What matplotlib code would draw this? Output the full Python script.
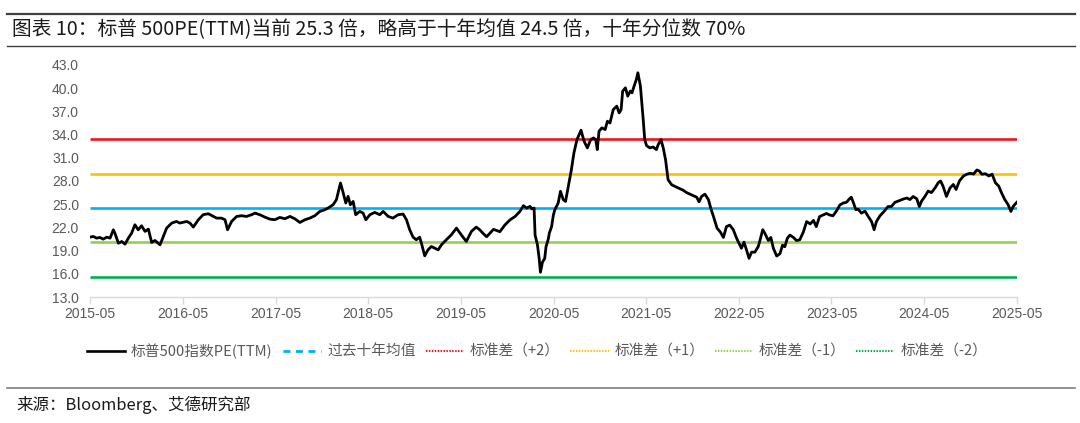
import matplotlib
matplotlib.use("Agg")
import matplotlib.pyplot as plt
from matplotlib.lines import Line2D
import pandas as pd

plt.rcParams['font.family'] = ['Noto Sans CJK SC', 'DejaVu Sans']

title = "图表 10：标普 500PE(TTM)当前 25.3 倍，略高于十年均值 24.5 倍，十年分位数 70%"
source = "来源：Bloomberg、艾德研究部"

dates = [
    "2015-05-01", "2015-05-14", "2015-05-27", "2015-06-09", "2015-06-22", "2015-07-06", "2015-07-19",
    "2015-08-01", "2015-08-07", "2015-08-21", "2015-09-03", "2015-09-16", "2015-09-29", "2015-10-12",
    "2015-10-25", "2015-11-07", "2015-11-20", "2015-12-04", "2015-12-17", "2015-12-30", "2016-01-12",
    "2016-02-01", "2016-02-14", "2016-02-27", "2016-03-18", "2016-04-06", "2016-04-19", "2016-05-16",
    "2016-05-29", "2016-06-11", "2016-07-01", "2016-07-20", "2016-08-09", "2016-08-29", "2016-09-11",
    "2016-09-30", "2016-10-14", "2016-10-24", "2016-11-09", "2016-11-29", "2016-12-18", "2017-01-07",
    "2017-01-27", "2017-02-09", "2017-02-28", "2017-03-20", "2017-04-09", "2017-04-28", "2017-05-18",
    "2017-06-07", "2017-06-27", "2017-07-16", "2017-08-05", "2017-08-25", "2017-09-13", "2017-10-03",
    "2017-10-23", "2017-11-11", "2017-11-24", "2017-12-14", "2017-12-27", "2018-01-12", "2018-01-23",
    "2018-02-02", "2018-02-11", "2018-02-20", "2018-03-03", "2018-03-13", "2018-03-29", "2018-04-11",
    "2018-04-22", "2018-05-08", "2018-05-27", "2018-06-16", "2018-06-29", "2018-07-19", "2018-08-07",
    "2018-08-27", "2018-09-16", "2018-09-29", "2018-10-12", "2018-10-25", "2018-11-07", "2018-11-20",
    "2018-11-27", "2018-12-10", "2018-12-23", "2019-01-05", "2019-01-18", "2019-02-01", "2019-02-14",
    "2019-03-05", "2019-03-25", "2019-04-14", "2019-05-03", "2019-05-23", "2019-06-12", "2019-07-01",
    "2019-07-15", "2019-07-28", "2019-08-11", "2019-09-07", "2019-10-02", "2019-10-22", "2019-11-11",
    "2019-12-01", "2019-12-20", "2020-01-03", "2020-01-16", "2020-01-29", "2020-02-05", "2020-02-14",
    "2020-02-18", "2020-02-27", "2020-03-05", "2020-03-10", "2020-03-18", "2020-03-27", "2020-04-01",
    "2020-04-10", "2020-04-14", "2020-04-23", "2020-04-30", "2020-05-06", "2020-05-19", "2020-05-28",
    "2020-06-08", "2020-06-17", "2020-06-28", "2020-07-10", "2020-07-20", "2020-08-01", "2020-08-17",
    "2020-08-29", "2020-09-11", "2020-09-24", "2020-10-05", "2020-10-14", "2020-10-20", "2020-10-27",
    "2020-11-07", "2020-11-20", "2020-11-29", "2020-12-09", "2020-12-22", "2021-01-05", "2021-01-14",
    "2021-01-22", "2021-01-28", "2021-02-08", "2021-02-17", "2021-02-27", "2021-03-06", "2021-03-14",
    "2021-03-23", "2021-03-29", "2021-04-08", "2021-04-19", "2021-04-25", "2021-05-02", "2021-05-15",
    "2021-05-28", "2021-06-10", "2021-06-17", "2021-06-28", "2021-07-07", "2021-07-16", "2021-07-26",
    "2021-08-09", "2021-08-22", "2021-09-11", "2021-09-24", "2021-10-07", "2021-10-20", "2021-11-03",
    "2021-11-16", "2021-11-25", "2021-12-05", "2021-12-18", "2022-01-01", "2022-01-10", "2022-01-21",
    "2022-02-04", "2022-02-17", "2022-03-01", "2022-03-13", "2022-03-26", "2022-04-09", "2022-04-22",
    "2022-05-05", "2022-05-11", "2022-05-21", "2022-06-01", "2022-06-10", "2022-06-20", "2022-07-03",
    "2022-07-16", "2022-07-23", "2022-08-03", "2022-08-12", "2022-08-25", "2022-09-04", "2022-09-14",
    "2022-09-27", "2022-10-10", "2022-10-20", "2022-10-29", "2022-11-08", "2022-11-18", "2022-12-02",
    "2022-12-14", "2022-12-27", "2023-01-10", "2023-01-23", "2023-02-06", "2023-02-19", "2023-03-02",
    "2023-03-15", "2023-03-28", "2023-04-11", "2023-04-24", "2023-05-07", "2023-05-20", "2023-06-03",
    "2023-06-16", "2023-06-29", "2023-07-11", "2023-07-18", "2023-07-24", "2023-08-05", "2023-08-14",
    "2023-08-27", "2023-09-10", "2023-09-23", "2023-10-06", "2023-10-16", "2023-10-25", "2023-11-08",
    "2023-11-24", "2023-12-10", "2023-12-23", "2024-01-06", "2024-01-26", "2024-02-11", "2024-02-22",
    "2024-03-05", "2024-03-18", "2024-04-01", "2024-04-11", "2024-04-20", "2024-05-03", "2024-05-16",
    "2024-05-29", "2024-06-12", "2024-06-25", "2024-07-04", "2024-07-14", "2024-07-27", "2024-08-10",
    "2024-08-23", "2024-09-03", "2024-09-16", "2024-10-02", "2024-10-15", "2024-10-28", "2024-11-11",
    "2024-11-24", "2024-12-03", "2024-12-14", "2024-12-27", "2025-01-10", "2025-01-23", "2025-02-05",
    "2025-02-18", "2025-03-01", "2025-03-14", "2025-03-27", "2025-04-07", "2025-04-16", "2025-04-30",
]

pe_ttm = [
    20.74, 20.83, 20.61, 20.70, 20.48, 20.74, 20.61,
    21.69, 21.26, 19.96, 20.18, 19.83, 20.61, 21.26,
    22.34, 21.69, 22.21, 21.48, 21.78, 20.05, 20.31,
    19.75, 20.83, 21.91, 22.56, 22.77, 22.56, 22.77,
    22.56, 22.04, 22.99, 23.64, 23.77, 23.42, 23.20,
    23.20, 22.99, 21.69, 22.77, 23.42, 23.51, 23.42,
    23.64, 23.85, 23.64, 23.33, 23.07, 22.99, 23.29,
    23.12, 23.42, 23.12, 22.64, 22.99, 23.20, 23.51,
    24.07, 24.28, 24.50, 24.93, 25.58, 27.74, 26.44,
    25.15, 26.01, 24.93, 25.36, 23.64, 24.07, 23.85,
    22.99, 23.64, 23.94, 23.64, 24.07, 23.42, 23.20,
    23.64, 23.72, 22.99, 21.69, 20.74, 20.40, 20.74,
    19.96, 18.32, 19.10, 19.53, 19.32, 19.10, 19.75,
    20.40, 21.04, 21.91, 21.04, 20.18, 21.48, 22.04,
    21.69, 21.22, 20.79, 21.75, 21.44, 22.32, 22.97,
    23.41, 24.06, 24.81, 24.50, 24.72, 24.40, 24.50,
    21.00, 19.80, 18.00, 16.20, 17.50, 18.00, 19.50,
    20.50, 21.26, 22.10, 23.60, 24.30, 25.15, 26.66,
    25.58, 25.36, 27.30, 29.47, 31.63, 33.36, 34.57,
    33.14, 32.28, 33.36, 33.57, 33.36, 32.06, 34.44,
    34.87, 34.65, 35.73, 35.50, 37.24, 37.68, 36.81,
    37.24, 39.62, 40.05, 38.97, 39.62, 39.40, 40.27,
    41.13, 41.99, 40.27, 35.95, 33.36, 32.58, 32.28,
    32.40, 32.06, 32.70, 33.36, 32.28, 30.76, 28.17,
    27.52, 27.30, 27.00, 26.80, 26.50, 26.30, 26.10,
    25.90, 25.30, 26.00, 26.30, 25.60, 24.50, 23.40,
    21.90, 21.40, 20.70, 22.10, 22.30, 21.70, 20.60,
    19.70, 19.30, 20.10, 19.00, 18.00, 18.80, 18.80,
    19.50, 20.30, 21.70, 21.20, 20.30, 20.70, 19.30,
    18.30, 18.60, 19.70, 19.50, 20.60, 21.00, 20.70,
    20.30, 20.40, 21.40, 22.75, 22.45, 22.90, 22.10,
    23.40, 23.60, 23.80, 23.60, 23.50, 24.10, 24.90,
    25.15, 25.25, 25.70, 25.90, 25.40, 24.30, 24.35,
    23.85, 24.10, 23.40, 22.75, 21.70, 22.75, 23.50,
    24.06, 24.70, 24.70, 25.24, 25.50, 25.70, 25.80,
    25.60, 26.00, 25.70, 24.70, 25.40, 26.00, 26.70,
    26.50, 27.10, 27.80, 28.00, 27.30, 26.00, 27.10,
    27.55, 26.90, 28.00, 28.65, 28.87, 29.00, 28.90,
    29.43, 29.30, 28.87, 28.95, 28.65, 28.87, 27.77,
    27.34, 26.47, 25.59, 24.94, 24.06, 24.72, 25.24,
]

mean_10y = 24.5
std_plus2 = 33.4
std_plus1 = 28.95
std_minus1 = 20.05
std_minus2 = 15.6

series_labels = ["标普500指数PE(TTM)", "过去十年均值", "标准差（+2）", "标准差（+1）", "标准差（-1）", "标准差（-2）"]
tick_dates = ["2015-05", "2016-05", "2017-05", "2018-05", "2019-05", "2020-05",
              "2021-05", "2022-05", "2023-05", "2024-05", "2025-05"]
y_ticks = [13.0, 16.0, 19.0, 22.0, 25.0, 28.0, 31.0, 34.0, 37.0, 40.0, 43.0]

x = pd.to_datetime(dates)
tick_x = pd.to_datetime([t + "-01" for t in tick_dates])

C_RED = "#F0161B"
C_YEL = "#FFC000"
C_BLUE = "#00B0F0"
C_LGRN = "#92D050"
C_DGRN = "#00B050"
TXT = "#595959"

W, H = 1080, 423
fig = plt.figure(figsize=(W / 100, H / 100), dpi=100)
ax = fig.add_axes([90 / W, 1 - 297 / H, (1017 - 90) / W, (297 - 65) / H])

lw_h = 1.9
for val, col in [(std_plus2, C_RED), (std_plus1, C_YEL), (mean_10y, C_BLUE),
                 (std_minus1, C_LGRN), (std_minus2, C_DGRN)]:
    ax.plot([tick_x[0], tick_x[-1]], [val, val], color=col, lw=lw_h, solid_capstyle='butt', zorder=2)
ax.plot(x, pe_ttm, color="black", lw=2.0, zorder=3, solid_joinstyle='round')

ax.set_xlim(tick_x[0], tick_x[-1])
ax.set_ylim(13, 43)
ax.set_yticks(y_ticks)
ax.set_yticklabels([f"{v:.1f}" for v in y_ticks], family=['Liberation Sans'], fontsize=10, color=TXT)
ax.set_xticks(tick_x)
ax.set_xticklabels(tick_dates, family=['Liberation Sans'], fontsize=10, color=TXT)
ax.tick_params(axis='y', length=0, pad=8)
ax.tick_params(axis='x', length=5, color="#D9D9D9", width=1, pad=2)
for s in ["left", "right", "top"]:
    ax.spines[s].set_visible(False)
ax.spines["bottom"].set_color("#D9D9D9")
ax.spines["bottom"].set_linewidth(1)

handles = [
    Line2D([], [], color="black", lw=1.9),
    Line2D([], [], color=C_BLUE, lw=2.0, linestyle=(0, (2.5, 2.0))),
    Line2D([], [], color=C_RED, lw=1.5, linestyle=(0, (0.7, 0.7))),
    Line2D([], [], color=C_YEL, lw=1.5, linestyle=(0, (0.7, 0.7))),
    Line2D([], [], color=C_LGRN, lw=1.5, linestyle=(0, (0.7, 0.7))),
    Line2D([], [], color=C_DGRN, lw=1.5, linestyle=(0, (0.7, 0.7))),
]
leg = fig.legend(handles, series_labels, loc="center", bbox_to_anchor=(537 / W, 1 - 351 / H),
                 ncol=6, frameon=False, fontsize=10.6, handlelength=2.6, handletextpad=0.4,
                 columnspacing=0.7, labelcolor=TXT)

# header and footer rules
fig.add_artist(Line2D([7 / W, 1075 / W], [1 - 14 / H, 1 - 14 / H], color="#3F3F3F", lw=1.6))
fig.add_artist(Line2D([7 / W, 1075 / W], [1 - 46 / H, 1 - 46 / H], color="#3F3F3F", lw=1.0))
fig.add_artist(Line2D([7 / W, 1075 / W], [1 - 388 / H, 1 - 388 / H], color="#7F7F7F", lw=1.2))

fig.text(12 / W, 1 - 30 / H, title, fontsize=14.2, color="#1A1A1A", va="center", ha="left")
fig.text(16 / W, 1 - 405 / H, source, fontsize=11.9, color="#1A1A1A", va="center", ha="left")

fig.savefig("out.png", dpi=100)
